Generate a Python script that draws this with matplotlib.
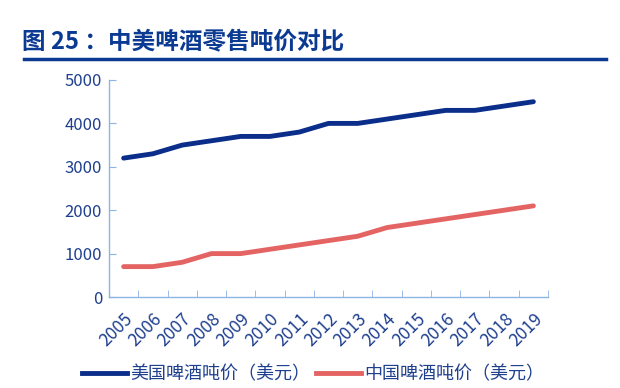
import matplotlib
matplotlib.use("Agg")
import matplotlib.pyplot as plt
from matplotlib.lines import Line2D

plt.rcParams['font.family'] = ['Noto Sans CJK SC', 'DejaVu Sans']

years = ["2005", "2006", "2007", "2008", "2009", "2010", "2011", "2012",
         "2013", "2014", "2015", "2016", "2017", "2018", "2019"]
us_price = [3200, 3300, 3500, 3600, 3700, 3700, 3800, 4000, 4000, 4100, 4200, 4300, 4300, 4400, 4500]
cn_price = [700, 700, 800, 1000, 1000, 1100, 1200, 1300, 1400, 1600, 1700, 1800, 1900, 2000, 2100]
series_names = ["美国啤酒吨价（美元）", "中国啤酒吨价（美元）"]
title = "图 25 ：中美啤酒零售吨价对比"

W, H = 620, 388
fig = plt.figure(figsize=(W / 100, H / 100), dpi=100)
ax = fig.add_axes([109 / W, 1 - 297 / H, (548 - 109) / W, (297 - 80) / H])

blue = "#0A2E8A"
red = "#E46464"
tick_color = "#1F3F8F"
spine_color = "#8EB4E3"

x = list(range(len(years)))
ax.plot(x, us_price, color=blue, lw=3.5, solid_capstyle="round")
ax.plot(x, cn_price, color=red, lw=3.5, solid_capstyle="round")

ax.set_xlim(-0.5, len(years) - 0.5)
ax.set_ylim(0, 5000)
ax.set_yticks([0, 1000, 2000, 3000, 4000, 5000])
ax.set_xticks(x)
ax.set_xticklabels(years, rotation=45, ha="right", rotation_mode="anchor")
ax.set_xticks([i - 0.5 for i in range(len(years) + 1)], minor=True)
ax.tick_params(axis="x", which="major", length=0, pad=9, labelsize=12.5, labelcolor=tick_color)
ax.tick_params(axis="x", which="minor", length=5, color=spine_color, direction="in")
ax.tick_params(axis="y", length=5, color=spine_color, direction="in", labelsize=12,
               labelcolor=tick_color, pad=5)
for s in ["top", "right"]:
    ax.spines[s].set_visible(False)
for s in ["left", "bottom"]:
    ax.spines[s].set_color(spine_color)
    ax.spines[s].set_linewidth(1)

handles = [Line2D([], [], color=blue, lw=3.5), Line2D([], [], color=red, lw=3.5)]
fig.legend(handles, series_names, loc="center", bbox_to_anchor=(313 / W, 1 - 374 / H), ncol=2,
           frameon=False, fontsize=13, handlelength=2.5, handletextpad=0.2, columnspacing=0.3,
           labelcolor=tick_color)

fig.text(22 / W, 1 - 42 / H, title, fontsize=17, fontweight="bold", color="#0B3A93",
         va="center", ha="left")
fig.add_artist(Line2D([24 / W, 606 / W], [1 - 59 / H, 1 - 59 / H], color="#0B3A93", lw=2.5))

fig.savefig("out.png", dpi=100)
